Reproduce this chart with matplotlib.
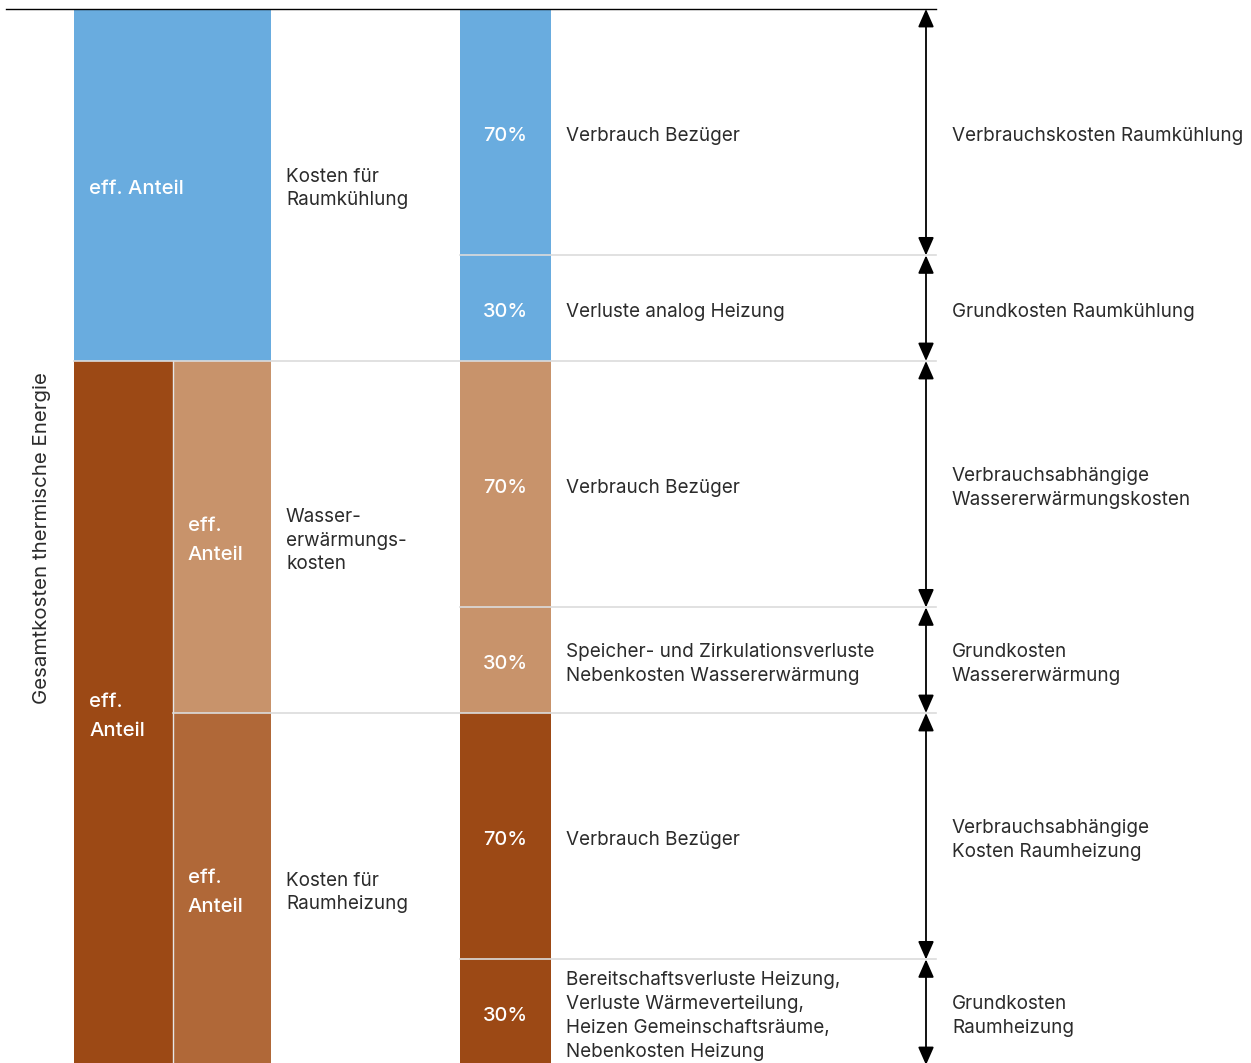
import matplotlib.pyplot as plt
from matplotlib.patches import Rectangle

plt.rcParams['font.family'] = ['Inter', 'DejaVu Sans']

# data: three cost groups of equal weight, each split 70 / 30
groups = ["Raumkühlung", "Wassererwärmung", "Raumheizung"]
group_share = [1.0, 1.0, 1.0]
split_pct = [70, 30]
group_colors = ["#69acdf", "#c8936b", "#9c4915"]
mid_colors = ["#69acdf", "#c8936b", "#b06838"]

group_names = ["Kosten für\nRaumkühlung", "Wasser-\nerwärmungs-\nkosten", "Kosten für\nRaumheizung"]
seg_desc = [
    ["Verbrauch Bezüger", "Verluste analog Heizung"],
    ["Verbrauch Bezüger", "Speicher- und Zirkulationsverluste\nNebenkosten Wassererwärmung"],
    ["Verbrauch Bezüger", "Bereitschaftsverluste Heizung,\nVerluste Wärmeverteilung,\nHeizen Gemeinschaftsräume,\nNebenkosten Heizung"],
]
seg_right = [
    ["Verbrauchskosten Raumkühlung", "Grundkosten Raumkühlung"],
    ["Verbrauchsabhängige\nWassererwärmungskosten", "Grundkosten\nWassererwärmung"],
    ["Verbrauchsabhängige\nKosten Raumheizung", "Grundkosten\nRaumheizung"],
]
ylabel = "Gesamtkosten thermische Energie"

txt = "#2b2b2b"
sep = "#dcdcdc"
fs = 13.6
fs_w = 14.6

fig = plt.figure(figsize=(12.51, 10.63), dpi=100)
ax = fig.add_axes([0, 0, 1, 1])
unit = 352.0  # px per group
ax.set_xlim(0, 1251)
ax.set_ylim(1054 / unit, -9 / unit)
ax.axis('off')
dy = 3.5 / unit  # small nudge so text sits like the original

# column x positions (px)
c1, c2, c3 = 74, 173, 271
b0, b1 = 460, 551
arrow_x = 926
line_end = 936

starts = [sum(group_share[:i]) for i in range(len(groups))]

# top rule
ax.plot([6, line_end], [0, 0], color="black", lw=1)

# left columns
# cooling: one block spanning both columns
ax.add_patch(Rectangle((c1, starts[0]), c3 - c1, group_share[0], facecolor=group_colors[0], edgecolor="none"))
ax.text(c1 + 15, starts[0] + group_share[0] / 2 + dy, "eff. Anteil", color="white", fontsize=fs_w,
        fontweight="medium", va="center", ha="left")
# heat side: outer column covers water + heating
heat_total = group_share[1] + group_share[2]
ax.add_patch(Rectangle((c1, starts[1]), c2 - c1, heat_total, facecolor=group_colors[2], edgecolor="none"))
ax.text(c1 + 15, starts[1] + heat_total / 2 + dy, "eff.\nAnteil", color="white", fontsize=fs_w,
        fontweight="medium", va="center", ha="left", linespacing=1.8)
for i in [1, 2]:
    ax.add_patch(Rectangle((c2, starts[i]), c3 - c2, group_share[i], facecolor=mid_colors[i], edgecolor="none"))
    ax.text(c2 + 15, starts[i] + group_share[i] / 2 + dy, "eff.\nAnteil", color="white", fontsize=fs_w,
            fontweight="medium", va="center", ha="left", linespacing=1.8)
ax.plot([c2, c2], [starts[1], starts[1] + heat_total], color="#e6e6e6", lw=1)

for i in range(3):
    ax.text(c3 + 15, starts[i] + group_share[i] / 2 + dy, group_names[i], color=txt, fontsize=fs,
            va="center", ha="left", linespacing=1.42)

# right column segments
for i in range(3):
    y = starts[i]
    for j, p in enumerate(split_pct):
        h = group_share[i] * p / 100
        ax.add_patch(Rectangle((b0, y), b1 - b0, h, facecolor=group_colors[i], edgecolor="none"))
        cy = y + h / 2 + dy
        ax.text((b0 + b1) / 2, cy, f"{p}%", color="white", fontsize=fs_w - 0.3, fontweight="medium",
                ha="center", va="center")
        ax.text(b1 + 15, cy, seg_desc[i][j], color=txt, fontsize=fs, ha="left", va="center",
                linespacing=1.42)
        ax.text(arrow_x + 26, cy, seg_right[i][j], color=txt, fontsize=fs, ha="left", va="center",
                linespacing=1.42)
        ax.annotate("", xy=(arrow_x, y), xytext=(arrow_x, y + h),
                    arrowprops=dict(arrowstyle="<|-|>,head_length=0.5,head_width=0.22", color="black",
                                    lw=1.3, mutation_scale=22, shrinkA=0, shrinkB=0))
        # separator under the segment
        if i < 2 or j == 0:
            yb = y + h
            if j == 0:
                x0 = b0
            elif i == 0:
                x0 = c1
            else:
                x0 = c2
            ax.plot([x0, line_end], [yb, yb], color=sep, lw=1.2, zorder=3)
        y += h

ax.text(42, 529 / unit, ylabel, rotation=90, color=txt, fontsize=14.7, ha="center", va="center")

fig.savefig("out.png", dpi=100)
